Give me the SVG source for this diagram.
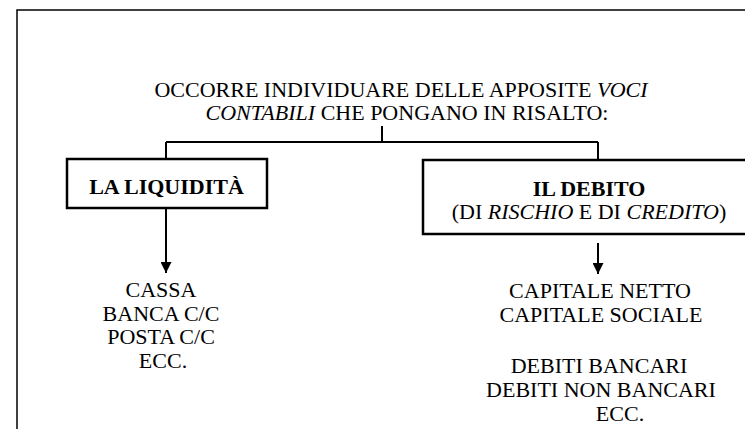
<svg xmlns="http://www.w3.org/2000/svg" width="745" height="429" viewBox="0 0 745 429" font-family="'Liberation Serif', 'DejaVu Serif', serif">
<style>
text{font-family:'Liberation Serif','Times New Roman',serif;font-size:22px;fill:#000;text-anchor:middle}
.b{font-weight:bold}
.i{font-style:italic}
.ln{stroke:#000;stroke-width:2;fill:none}
.box{stroke:#000;stroke-width:2.5;fill:#fff}
</style>
<defs>
<marker id="ah" viewBox="0 0 10 10" refX="10" refY="5" markerWidth="11" markerHeight="11" markerUnits="userSpaceOnUse" orient="auto">
<path d="M0,0 L10,5 L0,10 z" fill="#000"/>
</marker>
</defs>
<rect x="17" y="10" width="760" height="440" fill="none" stroke="#000" stroke-width="1.5"/>
<g id="title">
<text x="401" y="97">OCCORRE INDIVIDUARE DELLE APPOSITE <tspan class="i">VOCI</tspan></text>
<text x="407" y="120"><tspan class="i">CONTABILI</tspan> CHE PONGANO IN RISALTO:</text>
</g>
<g id="connectors">
<path class="ln" d="M382,126 V142 M166,142 H598 M166,142 V159 M598,142 V160"/>
<path class="ln" d="M166,208 V273" marker-end="url(#ah)"/>
<path class="ln" d="M598,243 V274" marker-end="url(#ah)"/>
</g>
<g id="liquidita">
<rect class="box" x="67" y="159" width="200" height="49"/>
<text class="b" x="166.5" y="194">LA LIQUIDITÀ</text>
</g>
<g id="debito">
<rect class="box" x="423" y="160" width="340" height="74"/>
<text class="b" x="589" y="196">IL DEBITO</text>
<text x="589" y="219">(DI <tspan class="i">RISCHIO</tspan> E DI <tspan class="i">CREDITO</tspan>)</text>
</g>
<g id="liquidita-voci">
<text x="161" y="297">CASSA</text>
<text x="161" y="320.5">BANCA C/C</text>
<text x="161" y="344">POSTA C/C</text>
<text x="163" y="367.5">ECC.</text>
</g>
<g id="debito-voci">
<text x="600" y="298">CAPITALE NETTO</text>
<text x="601" y="322">CAPITALE SOCIALE</text>
<text x="599" y="373">DEBITI BANCARI</text>
<text x="601" y="397">DEBITI NON BANCARI</text>
<text x="620" y="421">ECC.</text>
</g>
</svg>
